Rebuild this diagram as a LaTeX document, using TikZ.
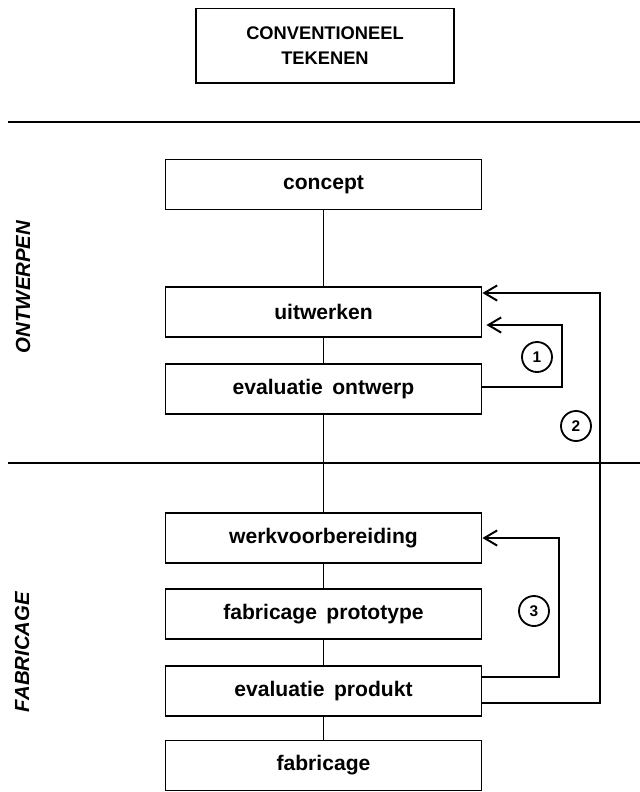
\documentclass[tikz,border=0pt]{standalone}
\usepackage{fontspec}
\setmainfont{Liberation Sans}
\usetikzlibrary{arrows.meta,positioning,calc}

\begin{document}
\begin{tikzpicture}[
    x=0.025cm, y=-0.025cm,
    stap/.style={draw, line width=1.3pt, minimum width=7.9cm, minimum height=1.25cm,
        inner sep=0pt, font=\fontsize{15}{18}\selectfont\bfseries},
    fase/.style={rotate=90, font=\fontsize{14.5}{17}\selectfont\bfseries\itshape},
    nummer/.style={draw, circle, line width=1.3pt, minimum size=0.75cm, inner sep=0pt,
        font=\fontsize{11}{12}\selectfont\bfseries},
    lijn/.style={line width=1pt},
    terug/.style={line width=1.6pt, -{Straight Barb[length=3.2mm,width=3.8mm,line width=1.4pt]}},
    scheiding/.style={line width=1.8pt}
]

% Frame
\useasboundingbox (0,0) rectangle (640,792);

% Title box
\node[draw, line width=1.4pt, minimum width=6.45cm, minimum height=1.85cm, align=center,
    font=\fontsize{13}{18}\selectfont\bfseries] (titel) at (325,45.5) {CONVENTIONEEL\\TEKENEN};

% Separators
\coordinate (s1a) at (8,122);
\coordinate (s1b) at (640,122);
\coordinate (s2a) at (8,463);
\coordinate (s2b) at (640,463);
\draw[scheiding] (s1a) -- (s1b);
\draw[scheiding] (s2a) -- (s2b);

% Phases
\node[fase] (ontwerpen) at (23,287) {ONTWERPEN};
\node[fase] (fabricagefase) at (22,652) {FABRICAGE};

% Steps
\node[stap] (concept) at (323.5,184.5) {concept};
\node[stap] (uitwerken) at (323.5,312) {uitwerken};
\node[stap] (evalontwerp) at (323.5,389) {evaluatie\, ontwerp};
\node[stap] (werkvoorb) at (323.5,538) {werkvoorbereiding};
\node[stap] (prototype) at (323.5,614) {fabricage\, prototype};
\node[stap] (evalprodukt) at (323.5,691) {evaluatie\, produkt};
\node[stap] (fabricage) at (323.5,765.5) {fabricage};

% Connections
\draw[lijn] (concept) -- (uitwerken);
\draw[lijn] (uitwerken) -- (evalontwerp);
\draw[lijn] (evalontwerp) -- (werkvoorb);
\draw[lijn] (werkvoorb) -- (prototype);
\draw[lijn] (prototype) -- (evalprodukt);
\draw[lijn] (evalprodukt) -- (fabricage);

% Feedback loops
\draw[terug] ($(evalontwerp.east)+(0,-2)$) -| (562,325) -- ($(uitwerken.east)+(4,13)$);
\draw[terug] ($(evalprodukt.east)+(0,12)$) -| (600,293) -- ($(uitwerken.east)+(0,-19)$);
\draw[terug] ($(evalprodukt.east)+(0,-14)$) -| (559,538) -- (werkvoorb.east);

% Loop numbers
\node[nummer] (n1) at (537,357) {1};
\node[nummer] (n2) at (576,426) {2};
\node[nummer] (n3) at (534,611) {3};

\end{tikzpicture}
\end{document}
